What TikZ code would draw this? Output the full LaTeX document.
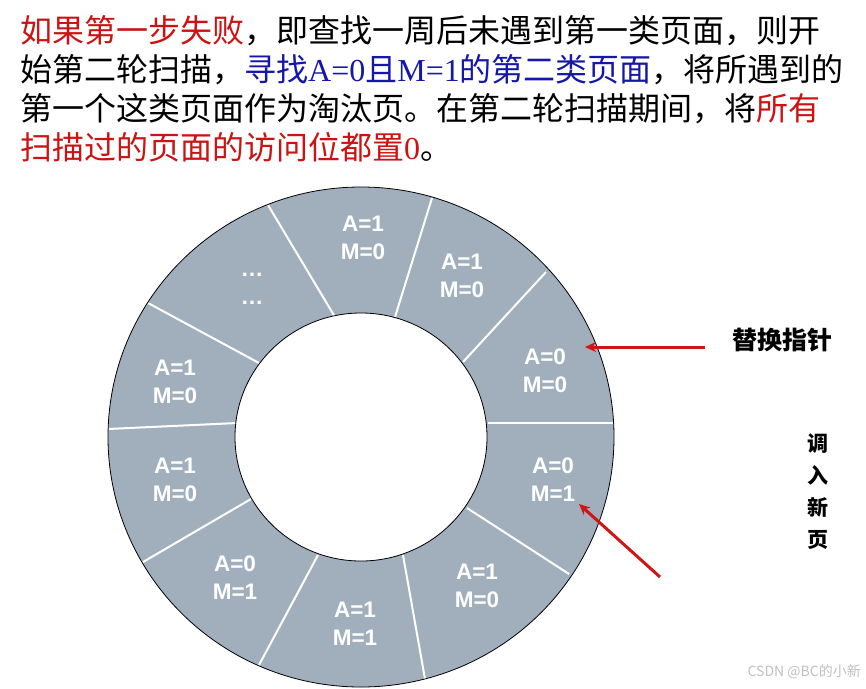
\documentclass[tikz,border=0pt]{standalone}
\usepackage{fontspec}
\setmainfont{Liberation Serif}
\setsansfont{Liberation Sans}
\newfontfamily\cjk{Noto Sans CJK SC}
\usetikzlibrary{arrows.meta,positioning}
\definecolor{ringgray}{RGB}{161,175,189}
\definecolor{hotred}{RGB}{204,18,18}
\definecolor{deepblue}{RGB}{22,22,168}
\definecolor{arrowred}{RGB}{206,22,22}
\newcommand{\latin}[1]{{\rmfamily #1}}
\tikzset{
  ring/.style={fill=ringgray, even odd rule},
  rim/.style={draw=black, line width=0.8pt},
  divider/.style={draw=white, line width=2pt},
  bits/.style={align=center, text=white, inner sep=0pt,
    font=\sffamily\bfseries\fontsize{22.5}{28}\selectfont},
  titleline/.style={anchor=base west, inner sep=0pt,
    font=\cjk\fontsize{32}{39}\selectfont},
  side/.style={inner sep=0pt, align=center},
  ptr/.style={-{Stealth[length=11pt,width=10pt]}, draw=arrowred, line width=3pt},
}

\begin{document}
\begin{tikzpicture}[x=1pt,y=-1pt]
\useasboundingbox (0,0) rectangle (866,688);
% explanation text
\node[titleline] (t1) at (20,42) {\textcolor{hotred}{如果第一步失败}，即查找一周后未遇到第一类页面，则开};
\node[titleline] (t2) at (20,81) {始第二轮扫描，\textcolor{deepblue}{寻找\latin{A=0}且\latin{M=1}的第二类页面}，将所遇到的};
\node[titleline] (t3) at (20,120) {第一个这类页面作为淘汰页。在第二轮扫描期间，将\textcolor{hotred}{所有}};
\node[titleline] (t4) at (20,159) {\textcolor{hotred}{扫描过的页面的访问位都置\latin{0}}。};
% ring of pages
\coordinate (c) at (361,437);
\fill[ring] (c) circle[x radius=253, y radius=250] (c) circle[x radius=126, y radius=124];
\draw[divider] (259,363) -- (148,303);
\draw[divider] (335,317) -- (268,205);
\draw[divider] (395,317) -- (432,198);
\draw[divider] (463,362) -- (546,272);
\draw[divider] (488,423) -- (615,423);
\draw[divider] (467,508) -- (569,574);
\draw[divider] (403,555) -- (425,679);
\draw[divider] (318,555) -- (259,665);
\draw[divider] (251,499) -- (143,562);
\draw[divider] (237,423) -- (108,429);
\draw[rim] (c) circle[x radius=253, y radius=250];
\draw[rim] (c) circle[x radius=126, y radius=124];
% page bits
\node[bits] (pg1)  at (363,238) {A=1\\M=0};
\node[bits] (pg2)  at (462,276) {A=1\\M=0};
\node[bits] (pg3)  at (545,371) {A=0\\M=0};
\node[bits] (pg4)  at (553,480) {A=0\\M=1};
\node[bits] (pg5)  at (477,586) {A=1\\M=0};
\node[bits] (pg6)  at (355,624) {A=1\\M=1};
\node[bits] (pg7)  at (235,578) {A=0\\M=1};
\node[bits] (pg8)  at (175,480) {A=1\\M=0};
\node[bits] (pg9)  at (175,382) {A=1\\M=0};
\node[bits] (pg10) at (252,289) {…\\…};
% pointers
\node[side, font=\cjk\bfseries\fontsize{25}{25}\selectfont] (ptrtext) at (782,340) {替换指针};
\node[side, font=\cjk\bfseries\fontsize{21}{32}\selectfont] (newtext) at (818,492) {调\\入\\新\\页};
\coordinate (ptrtail) at (705,347);
\coordinate (ptrhead) at (585,347);
\coordinate (newtail) at (660,577);
\coordinate (newhead) at (579,504);
\draw[ptr] (ptrtail) -- (ptrhead);
\draw[ptr] (newtail) -- (newhead);
% watermark
\node[inner sep=0pt, anchor=east, text=black!25, font=\cjk\fontsize{14}{14}\selectfont] (mark) at (861,672) {CSDN @BC的小新};
\end{tikzpicture}
\end{document}
